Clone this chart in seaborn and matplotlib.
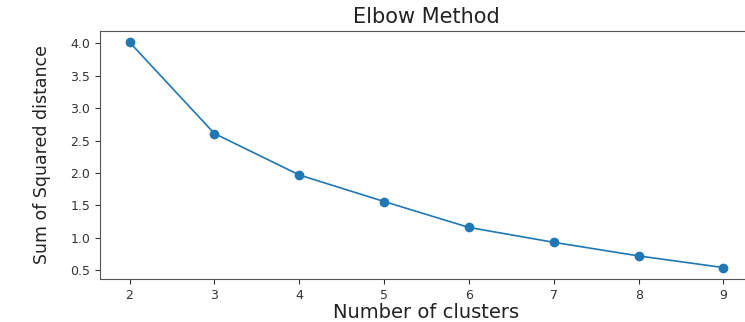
import matplotlib
matplotlib.use("Agg")
import matplotlib.pyplot as plt
import seaborn as sns
import pandas as pd

clusters = [2, 3, 4, 5, 6, 7, 8, 9]
sse = [4.02, 2.61, 1.97, 1.56, 1.16, 0.93, 0.72, 0.54]
y_ticks = [0.5, 1.0, 1.5, 2.0, 2.5, 3.0, 3.5, 4.0]

df = pd.DataFrame({"k": clusters, "sse": sse})

fig = plt.figure(figsize=(7.45, 3.22), dpi=100)
ax = fig.add_axes([0.134, 0.134, 0.877, 0.770])
sns.lineplot(data=df, x="k", y="sse", marker="o", markersize=7,
             color="#1f77b4", linewidth=1.2, markeredgewidth=0, ax=ax)
ax.set_xticks(clusters)
ax.set_yticks(y_ticks)
ax.tick_params(labelsize=9, colors="#333333")
for s in ax.spines.values():
    s.set_color("#555555")
ax.set_title("Elbow Method", fontsize=15, pad=6, color="#222222")
ax.set_xlabel("Number of clusters", fontsize=14, labelpad=1, color="#222222")
ax.set_ylabel("Sum of Squared distance", fontsize=12.5, labelpad=14, color="#222222")
fig.savefig("out.png", dpi=100)
